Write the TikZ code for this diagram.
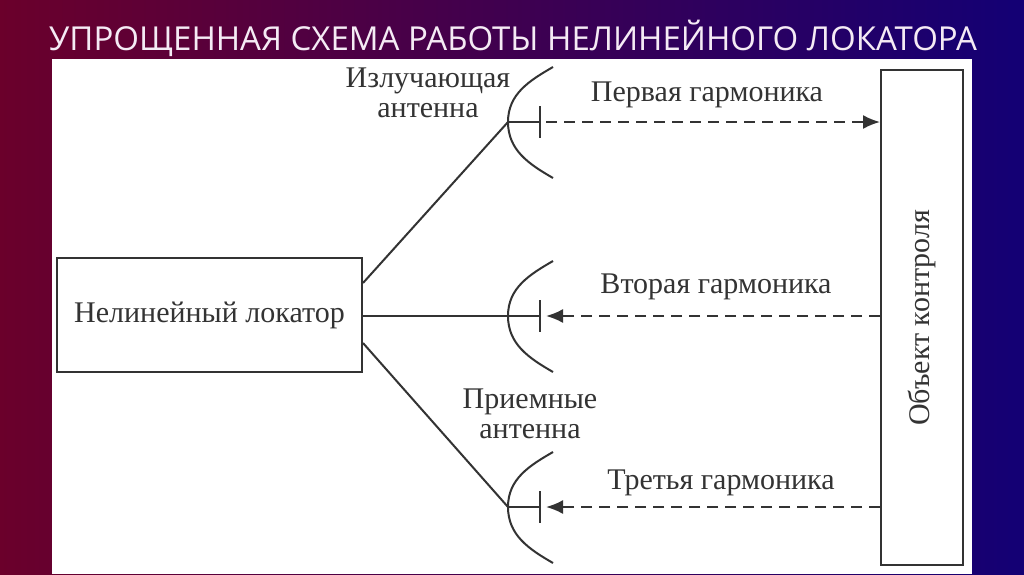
\documentclass[tikz,border=0pt]{standalone}
\usepackage{fontspec}
\setmainfont{Liberation Serif}
\newfontfamily\titlefont{Open Sans}
\usetikzlibrary{arrows.meta}
\begin{document}
\begin{tikzpicture}[x=1pt,y=-1pt,
  ln/.style={line width=2pt,draw=black!80},
  dl/.style={ln,dash pattern=on 11pt off 7pt},
  lbl/.style={font=\fontsize{30}{30}\selectfont,text=black!80,align=center,inner sep=0pt},
  ar/.style={-{Latex[length=17pt,width=14pt]}}]
\shade[left color=black!55!violet!75!red, right color=blue!45!black!85!violet] (0,0) rectangle (1024,574);
\useasboundingbox (0,0) rectangle (1024,574);
\node[font=\titlefont\fontsize{33}{33}\selectfont,text=white!92!violet,anchor=center] (title) at (513,38) {УПРОЩЕННАЯ СХЕМА РАБОТЫ НЕЛИНЕЙНОГО ЛОКАТОРА};
\fill[white] (52,59) rectangle (972,574);
\node[ln,draw,minimum width=305pt,minimum height=114pt,lbl] (loc) at (209.5,315) {Нелинейный локатор};
\node[ln,draw,minimum width=82pt,minimum height=495pt] (obj) at (922,317.5) {};
\node[lbl,rotate=90] (objt) at (922,318) {Объект контроля};
\foreach \i/\y in {a/122,b/316,c/507}{
  \coordinate (\i apex) at (508,\y);
  \coordinate (\i tick) at (540,\y);
  \draw[ln] (553,\y-55) to[out=-150,in=90] (\i apex) to[out=-90,in=150] (553,\y+56);
  \draw[ln] (\i apex) -- (\i tick);
  \draw[ln] (540,\y-16) -- (540,\y+16);
}
\draw[ln] (loc.east |- 0,283) -- (aapex);
\draw[ln] (loc.east |- 0,316) -- (bapex);
\draw[ln] (loc.east |- 0,343) -- (capex);
\coordinate (oa) at (obj.west |- 0,122);
\coordinate (ob) at (obj.west |- 0,316);
\coordinate (oc) at (obj.west |- 0,507);
\draw[dl,ar] ([xshift=6pt]atick) -- (oa);
\draw[dl,ar] (ob) -- ([xshift=6pt]btick);
\draw[dl,ar] (oc) -- ([xshift=6pt]ctick);
\node[lbl] (l1) at (428,93) {Излучающая\\антенна};
\node[lbl] (l2) at (530,414) {Приемные\\антенна};
\node[lbl] (h1) at (707,95) {Первая гармоника};
\node[lbl] (h2) at (716,287) {Вторая гармоника};
\node[lbl] (h3) at (721,483) {Третья гармоника};
\end{tikzpicture}
\end{document}
